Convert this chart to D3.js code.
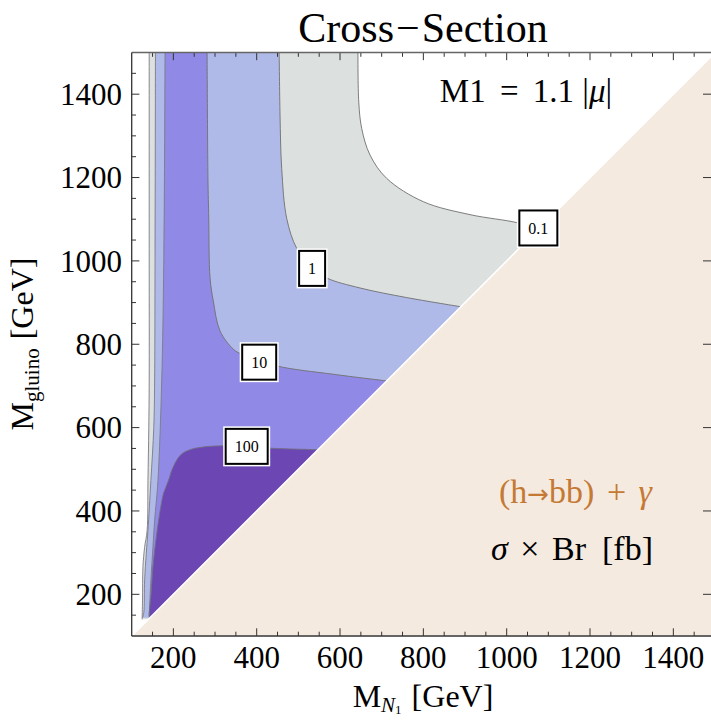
<!DOCTYPE html>
<html><head><meta charset="utf-8">
<script src="https://cdn.jsdelivr.net/npm/d3@7"></script>
<style>
body{margin:0;background:#fff}
svg{display:block}
text{font-family:"Liberation Serif","Times New Roman",serif;fill:#000}
</style>
</head><body>
<svg id="c" width="711" height="721"></svg>
<script>
// ---- data (GeV) ----
const levels = [0.1, 1, 10, 100];
const levelColors = ["#DCE0DF", "#B0BAE8", "#9189E6", "#6C46B3"];
const xTicks = [200, 400, 600, 800, 1000, 1200, 1400];
const yTicks = [200, 400, 600, 800, 1000, 1200, 1400];
// contour 0.1
const c01Left  = [[125,140],[126,186],[127,266],[131,313],[137,353],[139,473],[141,600],[142,712],[142,1000],[142,1500]];
const c01Right = [[643,1500],[645,1381],[652,1318],[672,1254],[712,1198],[800,1142],[912,1111],[1028,1091],[1075,1075]];
// contour 1
const c1Left  = [[126,144],[129,156],[131,234],[135,298],[139,353],[146,473],[153,600],[155,712],[156,1000],[157,1500]];
const c1Right = [[454,1500],[456,1350],[460,1222],[472,1102],[496,1030],[530,985],[568,959],[648,935],[760,912],[890,890]];
// contour 10
const c10Left  = [[142,148],[143,170],[146,234],[151,313],[155,377],[163,473],[172,712],[177,1000],[180,1500]];
const c10Right = [[281,1500],[283,1200],[285,1100],[288,960],[296,903],[312,832],[344,788],[364,776],[448,748],[584,728],[712,712]];
// contour 100 (closed on the diagonal)
const c100Left  = [[142,144],[142,154],[146,194],[151,266],[159,337],[167,393],[176,441],[179,449],[191,481],[196,497],[216,533]];
const c100Right = [[240,547],[288,555],[360,556],[424,551],[548,547]];
// label anchor positions (GeV)
const labelPos = [[1076,1079],[533,982],[406,757],[376,555]];

const branches = [
  [c01Left, c01Right],
  [c1Left, c1Right],
  [c10Left, c10Right],
  [c100Left, c100Right]
];

// ---- scales ----
const svg = d3.select("#c");
const x = d3.scaleLinear().domain([100,1500]).range([131.7,715]);
const y = d3.scaleLinear().domain([100,1500]).range([636,52.5]);

const line = d3.line().x(d=>x(d[0])).y(d=>y(d[1])).curve(d3.curveCatmullRom.alpha(0.5));

svg.append("defs").append("clipPath").attr("id","plotclip")
  .append("rect").attr("x",x(100)).attr("y",y(1500)).attr("width",x(1500)-x(100)).attr("height",y(100)-y(1500));

const g = svg.append("g").attr("clip-path","url(#plotclip)");
g.append("rect").attr("x",x(100)).attr("y",y(1500)).attr("width",x(1500)-x(100)).attr("height",y(100)-y(1500)).attr("fill","#fff");

// filled regions
branches.forEach((b,i)=>{
  const [L,R] = b;
  let isClosed = (i===3);
  let p = isClosed ? line(L.concat(R)) : line(L) + line(R).replace(/^M/,"L");
  const last = R[R.length-1], first = L[0];
  p += "L" + x(last[0]) + "," + y(first[1]) + "Z";
  g.append("path").attr("d",p).attr("fill",levelColors[i]).attr("stroke","none");
});
// contour lines
branches.forEach((b,i)=>{
  const [L,R] = b;
  if(i===3){
    g.append("path").attr("d",line(L.concat(R))).attr("fill","none").attr("stroke","#6f6f80").attr("stroke-width",0.9);
  } else {
    g.append("path").attr("d",line(L)).attr("fill","none").attr("stroke","#7a7a84").attr("stroke-width",0.9);
    g.append("path").attr("d",line(R)).attr("fill","none").attr("stroke","#6f6f6f").attr("stroke-width",0.9);
  }
});
// excluded triangle
const tri = [[100,100],[1500,1500],[1500,100]];
g.append("path").attr("d","M"+tri.map(d=>x(d[0])+","+y(d[1])).join("L")+"Z")
  .attr("fill","#F5EAE0").attr("stroke","#fff").attr("stroke-width",1.6);

// contour labels
levels.forEach((lv,i)=>{
  const cx = x(labelPos[i][0]), cy = y(labelPos[i][1]);
  const t = svg.append("text").attr("x",cx).attr("y",cy).attr("dy","0.35em")
    .attr("text-anchor","middle").attr("font-size",16).text(String(lv));
  const w = t.node().getComputedTextLength() + 20, h = 37;
  svg.insert("rect", () => t.node()).attr("x",cx-w/2-1.5).attr("y",cy-h/2-1.5).attr("width",w+3).attr("height",h+3).attr("fill","#fff");
  svg.insert("rect", () => t.node()).attr("x",cx-w/2+1).attr("y",cy-h/2+1).attr("width",w-2).attr("height",h-2)
    .attr("fill","#fff").attr("stroke","#000").attr("stroke-width",2);
});

// frame & ticks
const minor = d3.range(150,1500,50);
const tk = svg.append("g").attr("stroke","#333").attr("stroke-width",1);
minor.forEach(v=>{
  const big = v%200===0;
  const L = big?7.7:4.3;
  tk.append("line").attr("x1",x(v)).attr("x2",x(v)).attr("y1",y(100)).attr("y2",y(100)-L);
  tk.append("line").attr("x1",x(v)).attr("x2",x(v)).attr("y1",y(1500)).attr("y2",y(1500)+L);
  tk.append("line").attr("y1",y(v)).attr("y2",y(v)).attr("x1",x(100)).attr("x2",x(100)+L);
  tk.append("line").attr("y1",y(v)).attr("y2",y(v)).attr("x1",x(1500)).attr("x2",x(1500)-(big?12:4));
});
svg.append("line").attr("x1",x(100)).attr("x2",x(1500)).attr("y1",y(100)).attr("y2",y(100)).attr("stroke","#333").attr("stroke-width",1.3);
svg.append("line").attr("x1",x(100)).attr("x2",x(1500)).attr("y1",y(1500)).attr("y2",y(1500)).attr("stroke","#666").attr("stroke-width",1.3);
svg.append("line").attr("x1",x(100)).attr("x2",x(100)).attr("y1",y(100)).attr("y2",y(1500)).attr("stroke","#333").attr("stroke-width",1.3);

// tick labels
xTicks.forEach(v=>{
  svg.append("text").attr("x",x(v)).attr("y",668).attr("text-anchor","middle").attr("font-size",31).text(v);
});
yTicks.forEach(v=>{
  svg.append("text").attr("x",122).attr("y",y(v)).attr("dy","0.35em").attr("text-anchor","end").attr("font-size",31).text(v);
});

// title
const ti = svg.append("text").attr("x",423).attr("y",42).attr("text-anchor","middle").attr("font-size",42);
ti.append("tspan").text("Cross");
ti.append("tspan").attr("dx",2).text("\u2212");
ti.append("tspan").attr("dx",2).text("Section");

// axis labels
const xl = svg.append("text").attr("x",423).attr("y",707).attr("text-anchor","middle").attr("font-size",32);
xl.append("tspan").text("M");
xl.append("tspan").attr("font-size",21).attr("font-style","italic").attr("dy",5).text("N");
xl.append("tspan").attr("font-size",13).attr("dy",2).text("1");
xl.append("tspan").attr("dy",-7).attr("dx",10).text("[GeV]");

const yl = svg.append("text").attr("transform","translate(33,344) rotate(-90)").attr("text-anchor","middle").attr("font-size",32);
yl.append("tspan").text("M");
yl.append("tspan").attr("font-size",21).attr("dy",6).text("gluino");
yl.append("tspan").attr("dy",-6).attr("dx",9).text("[GeV]");

// annotations
const m1 = svg.append("text").attr("x",526).attr("y",102).attr("text-anchor","middle").attr("font-size",33);
m1.append("tspan").text("M1");
m1.append("tspan").attr("dx",6).text(" = ");
m1.append("tspan").attr("dx",6).text("1.1 |");
m1.append("tspan").attr("font-style","italic").text("\u03bc");
m1.append("tspan").text("|");

const hb = svg.append("text").attr("x",652).attr("y",503).attr("text-anchor","end").attr("font-size",34).style("fill","#C47A35");
hb.append("tspan").text("(h").style("fill","#C47A35");
hb.append("tspan").attr("font-family","DejaVu Sans").attr("font-size",26).text("\u2192").style("fill","#C47A35");
hb.append("tspan").text("bb)").style("fill","#C47A35");
hb.append("tspan").attr("dx",4).text(" + ").style("fill","#C47A35");
hb.append("tspan").attr("dx",4).attr("font-style","italic").text("\u03b3").style("fill","#C47A35");

const sb = svg.append("text").attr("x",653).attr("y",560).attr("text-anchor","end").attr("font-size",34);
sb.append("tspan").attr("font-style","italic").text("\u03c3");
sb.append("tspan").attr("dx",4).text(" \u00d7 ");
sb.append("tspan").attr("dx",4).text("Br");
sb.append("tspan").attr("dx",16).text("[fb]");
</script>
</body></html>
